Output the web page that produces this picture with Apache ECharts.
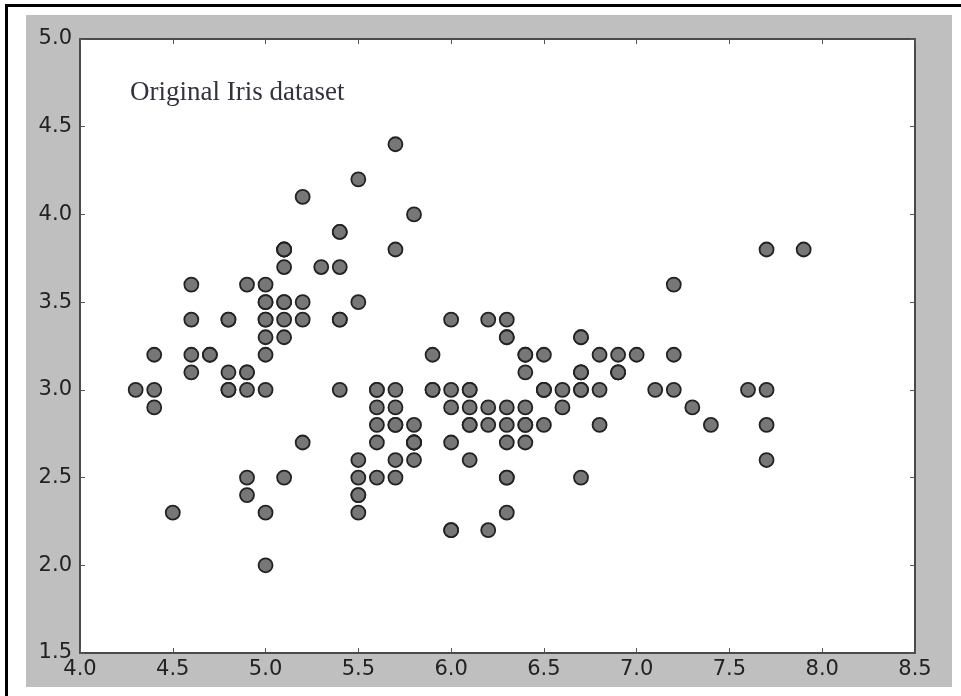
<!DOCTYPE html>
<html>
<head>
<meta charset="utf-8">
<script src="https://cdn.jsdelivr.net/npm/echarts@6/dist/echarts.min.js"></script>
<style>
html,body{margin:0;padding:0;background:#fff;}
#chart{width:961px;height:696px;}
</style>
</head>
<body>
<div id="chart"></div>
<script>
// Iris dataset: sepal length (x) and sepal width (y)
const sepalLength = [
 5.1,4.9,4.7,4.6,5.0,5.4,4.6,5.0,4.4,4.9,5.4,4.8,4.8,4.3,5.8,5.7,5.4,5.1,5.7,5.1,
 5.4,5.1,4.6,5.1,4.8,5.0,5.0,5.2,5.2,4.7,4.8,5.4,5.2,5.5,4.9,5.0,5.5,4.9,4.4,5.1,
 5.0,4.5,4.4,5.0,5.1,4.8,5.1,4.6,5.3,5.0,
 7.0,6.4,6.9,5.5,6.5,5.7,6.3,4.9,6.6,5.2,5.0,5.9,6.0,6.1,5.6,6.7,5.6,5.8,6.2,5.6,
 5.9,6.1,6.3,6.1,6.4,6.6,6.8,6.7,6.0,5.7,5.5,5.5,5.8,6.0,5.4,6.0,6.7,6.3,5.6,5.5,
 5.5,6.1,5.8,5.0,5.6,5.7,5.7,6.2,5.1,5.7,
 6.3,5.8,7.1,6.3,6.5,7.6,4.9,7.3,6.7,7.2,6.5,6.4,6.8,5.7,5.8,6.4,6.5,7.7,7.7,6.0,
 6.9,5.6,7.7,6.3,6.7,7.2,6.2,6.1,6.4,7.2,7.4,7.9,6.4,6.3,6.1,7.7,6.3,6.4,6.0,6.9,
 6.7,6.9,5.8,6.8,6.7,6.7,6.3,6.5,6.2,5.9
];
const sepalWidth = [
 3.5,3.0,3.2,3.1,3.6,3.9,3.4,3.4,2.9,3.1,3.7,3.4,3.0,3.0,4.0,4.4,3.9,3.5,3.8,3.8,
 3.4,3.7,3.6,3.3,3.4,3.0,3.4,3.5,3.4,3.2,3.1,3.4,4.1,4.2,3.1,3.2,3.5,3.6,3.0,3.4,
 3.5,2.3,3.2,3.5,3.8,3.0,3.8,3.2,3.7,3.3,
 3.2,3.2,3.1,2.3,2.8,2.8,3.3,2.4,2.9,2.7,2.0,3.0,2.2,2.9,2.9,3.1,3.0,2.7,2.2,2.5,
 3.2,2.8,2.5,2.8,2.9,3.0,2.8,3.0,2.9,2.6,2.4,2.4,2.7,2.7,3.0,3.4,3.1,2.3,3.0,2.5,
 2.6,3.0,2.6,2.3,2.7,3.0,2.9,2.9,2.5,2.8,
 3.3,2.7,3.0,2.9,3.0,3.0,2.5,2.9,2.5,3.6,3.2,2.7,3.0,2.5,2.8,3.2,3.0,3.8,2.6,2.2,
 3.2,2.8,2.8,2.7,3.3,3.2,2.8,3.0,2.8,3.0,2.8,3.8,2.8,2.8,2.6,3.0,3.4,3.1,3.0,3.1,
 3.1,3.1,2.7,3.2,3.3,3.0,2.5,3.0,3.4,3.0
];
const xTicks = [4.0,4.5,5.0,5.5,6.0,6.5,7.0,7.5,8.0,8.5];
const yTicks = [1.5,2.0,2.5,3.0,3.5,4.0,4.5,5.0];
const titleText = 'Original Iris dataset';

const points = sepalLength.map((x, i) => [x, sepalWidth[i]]);

const chart = echarts.init(document.getElementById('chart'), null, {renderer: 'canvas'});

const axisLine = {show: true, onZero: false, lineStyle: {color: '#4a4a4a', width: 2}};
const tick = {show: true, inside: true, length: 5, lineStyle: {color: '#555', width: 1}};
const labelStyle = {color: '#222', fontFamily: 'DejaVu Sans', fontSize: 21};

chart.setOption({
  backgroundColor: '#ffffff',
  animation: false,
  graphic: [
    {type: 'rect', z: -10, silent: true, shape: {x: 26, y: 15, width: 926, height: 672}, style: {fill: '#bfbfbf'}},
    {type: 'rect', z: -9, silent: true, shape: {x: 80, y: 39, width: 835, height: 614}, style: {fill: '#ffffff'}},
    {type: 'rect', z: 10, silent: true, shape: {x: 5, y: 4, width: 956, height: 3}, style: {fill: '#000'}},
    {type: 'rect', z: 10, silent: true, shape: {x: 5, y: 4, width: 3, height: 692}, style: {fill: '#000'}}
  ],
  title: {
    text: titleText,
    left: 125,
    top: 74,
    textStyle: {fontFamily: 'Liberation Serif', fontSize: 27, fontWeight: 'normal', color: '#333340'}
  },
  grid: {left: 80, top: 39, right: 46, bottom: 43, containLabel: false},
  xAxis: [
    {
      type: 'value', min: 4.0, max: 8.5, interval: 0.5, position: 'bottom',
      axisLine: axisLine, axisTick: tick, splitLine: {show: false},
      axisLabel: Object.assign({margin: 6, formatter: v => v.toFixed(1), customValues: xTicks}, labelStyle)
    },
    {
      type: 'value', min: 4.0, max: 8.5, interval: 0.5, position: 'top',
      axisLine: axisLine, axisTick: tick, splitLine: {show: false}, axisLabel: {show: false}
    }
  ],
  yAxis: [
    {
      type: 'value', min: 1.5, max: 5.0, interval: 0.5, position: 'left',
      axisLine: axisLine, axisTick: tick, splitLine: {show: false},
      axisLabel: Object.assign({margin: 8, formatter: v => v.toFixed(1), customValues: yTicks}, labelStyle)
    },
    {
      type: 'value', min: 1.5, max: 5.0, interval: 0.5, position: 'right',
      axisLine: axisLine, axisTick: tick, splitLine: {show: false}, axisLabel: {show: false}
    }
  ],
  series: [{
    type: 'scatter',
    xAxisIndex: 0,
    yAxisIndex: 0,
    data: points,
    symbol: 'circle',
    symbolSize: 14,
    itemStyle: {color: '#777', borderColor: '#222', borderWidth: 1.8, opacity: 1},
    emphasis: {disabled: true}
  }]
});
</script>
</body>
</html>
